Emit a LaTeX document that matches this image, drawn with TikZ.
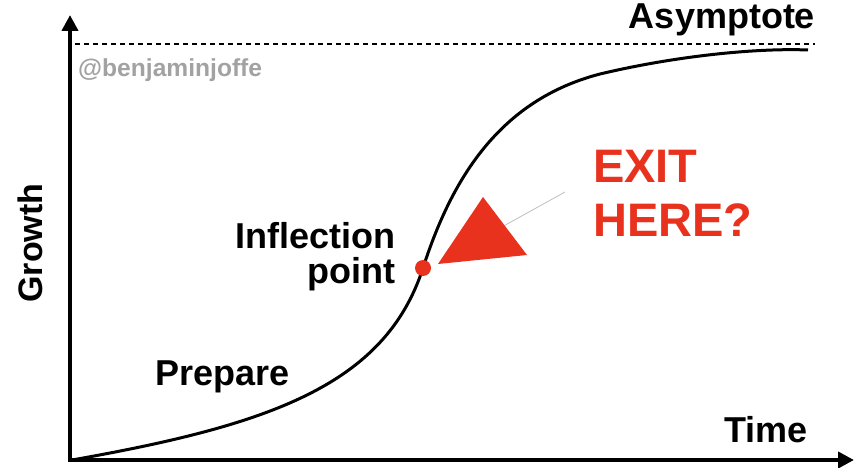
\documentclass[tikz,border=0pt]{standalone}
\usepackage{fontspec}
\setmainfont{Liberation Sans}
\usetikzlibrary{arrows.meta}
\definecolor{exitred}{HTML}{E8321E}
\definecolor{handlegray}{HTML}{A2A2A2}
\begin{document}
\begin{tikzpicture}[x=1pt,y=-1pt,
  axis/.style={line width=4pt,-{Triangle[length=16pt,width=16pt]}},
  lbl/.style={font=\bfseries\fontsize{36}{36}\selectfont,inner sep=0pt},
  exitlbl/.style={font=\bfseries\fontsize{47}{54}\selectfont,text=exitred,inner sep=0pt,align=left}]
\useasboundingbox (0,0) rectangle (854,468);
\coordinate (O) at (70,460);
\coordinate (ytop) at (70,15);
\coordinate (xend) at (854,460);
\coordinate (dashL) at (75,44);
\coordinate (dashR) at (815,44);
% asymptote
\draw[dashed,line width=1.3pt,dash pattern=on 5pt off 4pt] (dashL) -- (dashR);
% axes
\draw[axis] (O) -- (ytop);
\draw[axis] ([xshift=-2pt]O) -- (xend);
% growth curve
\coordinate (infl) at (423,268);
\draw[line width=3pt] (72,460) .. controls (270,425) and (385,385) .. (infl)
  .. controls (452,178) and (500,100) .. (600,74)
  .. controls (680,55) and (760,48) .. (808,50);
% exit marker
\draw[handlegray!70,line width=0.8pt] (500,228) -- (565,192);
\fill[exitred] (483,197) -- (527,255) -- (438,264) -- cycle;
\fill[exitred] (infl) circle (8);
% labels
\node[lbl,anchor=center] (asym) at (722,20) {Asymptote};
\node[font=\bfseries\fontsize{24.6}{24.6}\selectfont,text=handlegray,anchor=west,inner sep=0pt] (handle) at (78,70) {@benjaminjoffe};
\node[lbl,anchor=east,align=right,font=\bfseries\fontsize{36}{35}\selectfont] (inflbl) at (396,257) {Inflection\\point};
\node[lbl,anchor=west] (prep) at (155,377) {Prepare};
\node[lbl,anchor=east] (time) at (808,430) {Time};
\node[lbl,rotate=90,font=\bfseries\fontsize{34}{34}\selectfont] (growth) at (30,243) {Growth};
\node[exitlbl,anchor=west] (exit) at (593,193) {EXIT\\HERE?};
\end{tikzpicture}
\end{document}
